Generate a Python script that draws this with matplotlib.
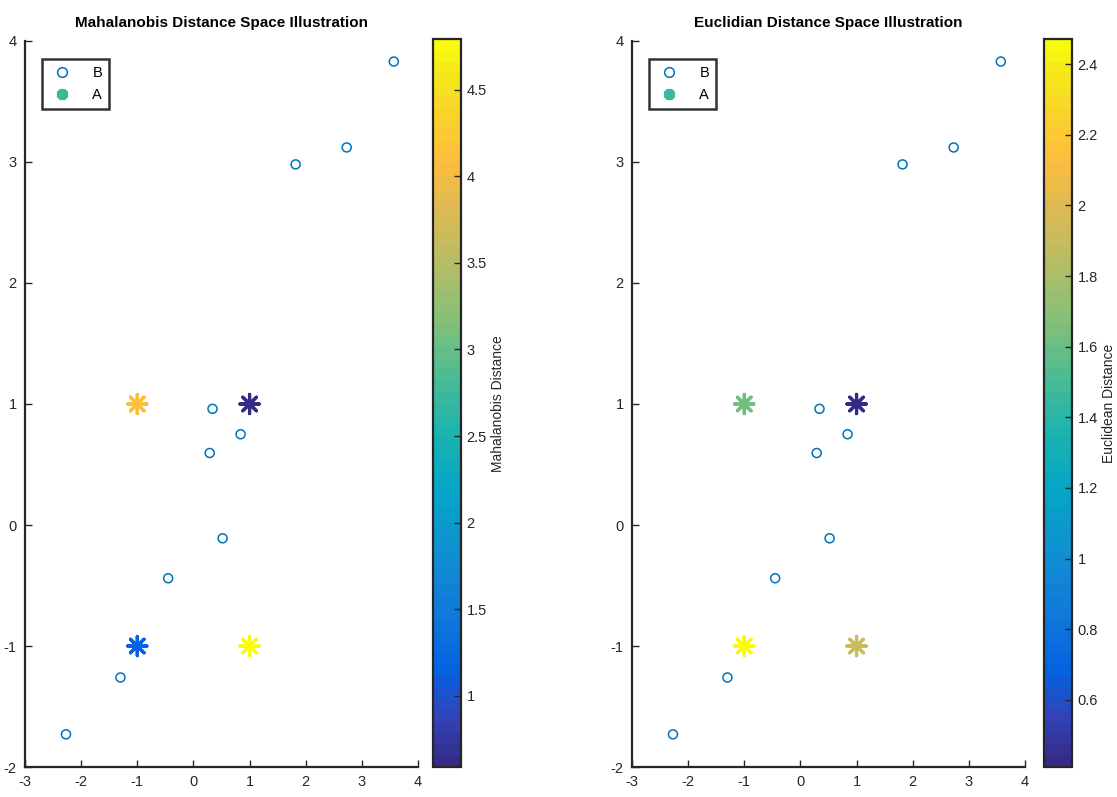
import numpy as np
import matplotlib
matplotlib.use('Agg')
import matplotlib.pyplot as plt
from matplotlib.colors import LinearSegmentedColormap
from matplotlib.lines import Line2D
from matplotlib.ticker import FuncFormatter

plt.rcParams['font.family'] = ['Liberation Sans Narrow', 'Liberation Sans', 'DejaVu Sans']
plt.rcParams['axes.unicode_minus'] = False

# data
b_x = [3.57, 2.73, 1.82, 0.34, 0.84, 0.29, 0.52, -0.45, -1.30, -2.27]
b_y = [3.83, 3.12, 2.98, 0.96, 0.75, 0.595, -0.11, -0.44, -1.26, -1.73]
a_x = [-1, 1, -1, 1]
a_y = [1, 1, -1, -1]
mahal_dist = [4.12, 0.59, 1.12, 4.79]
eucl_dist = [1.62, 0.41, 2.47, 1.91]

panels = [
    ('Mahalanobis Distance Space Illustration', 'Mahalanobis Distance', mahal_dist,
     np.arange(1, 4.6, 0.5)),
    ('Euclidian Distance Space Illustration', 'Euclidean Distance', eucl_dist,
     np.arange(0.6, 2.41, 0.2)),
]

# parula-like colormap, 64 steps (anchor index out of 63, rgb)
parula_pts = [
    (0, (0.2081, 0.1663, 0.5292)), (4, (0.1959, 0.2645, 0.7279)), (8, (0.0117, 0.3875, 0.8820)),
    (13, (0.0629, 0.4737, 0.8554)), (18, (0.0641, 0.5570, 0.8240)), (24, (0.0228, 0.6535, 0.7768)),
    (29, (0.1133, 0.7015, 0.6859)), (34, (0.3022, 0.7376, 0.5712)), (39, (0.5300, 0.7491, 0.4661)),
    (44, (0.7184, 0.7411, 0.3905)), (49, (0.8824, 0.7274, 0.3217)), (53, (0.9938, 0.7455, 0.2403)),
    (57, (0.9789, 0.8271, 0.1633)), (61, (0.9598, 0.9218, 0.0948)), (63, (0.9763, 0.9831, 0.0538)),
]
parula = LinearSegmentedColormap.from_list('parula', [(i / 63, c) for i, c in parula_pts], N=64)

ink = '#262626'
circ_col = (0.0, 0.447, 0.741)

fig = plt.figure(figsize=(11.17, 7.97), dpi=100)
ax_pos = [(0.0224, 0.0376, 0.3518, 0.911), (0.5658, 0.0376, 0.3518, 0.911)]
cb_pos = [(0.3876, 0.0376, 0.0251, 0.913), (0.9346, 0.0376, 0.0251, 0.913)]

for (title, cblabel, dist, cticks), apos, cpos in zip(panels, ax_pos, cb_pos):
    ax = fig.add_axes(apos)
    ax.scatter(b_x, b_y, s=42, facecolors='none', edgecolors=circ_col, linewidths=1.1, zorder=3)
    sc = ax.scatter(a_x, a_y, c=dist, cmap=parula, vmin=min(dist), vmax=max(dist),
                    marker=(8, 2, 0), s=190, linewidths=2.3, zorder=3)
    ax.set_xlim(-3, 4)
    ax.set_ylim(-2, 4)
    ax.set_xticks(range(-3, 5))
    ax.set_yticks(range(-2, 5))
    for side in ['top', 'right']:
        ax.spines[side].set_visible(False)
    for side in ['left', 'bottom']:
        ax.spines[side].set_linewidth(1.6)
        ax.spines[side].set_color(ink)
    ax.tick_params(direction='in', length=5, width=1, colors=ink, labelsize=10.5, pad=6)
    ax.set_title(title, fontsize=11, fontweight='bold', color='black', pad=10)

    handles = [
        Line2D([], [], marker='o', linestyle='none', markerfacecolor='none',
               markeredgecolor=circ_col, markersize=7, markeredgewidth=1.1),
        Line2D([], [], marker=(8, 2, 0), linestyle='none', color=parula(0.5),
               markersize=8, markeredgewidth=3),
    ]
    leg = ax.legend(handles, ['B', 'A'], loc='upper left', bbox_to_anchor=(0.025, 0.985),
                    fontsize=10.5, frameon=True, fancybox=False, markerfirst=True,
                    handlelength=1.8, handletextpad=1.2, borderpad=0.45, labelspacing=0.6)
    leg.get_frame().set_edgecolor('black')
    leg.get_frame().set_linewidth(1.8)

    cax = fig.add_axes(cpos)
    cb = fig.colorbar(sc, cax=cax, ticks=cticks, format=FuncFormatter(lambda v, p: '%g' % round(v, 2)))
    cb.outline.set_linewidth(1.6)
    cb.outline.set_edgecolor(ink)
    cax.tick_params(direction='in', length=5, width=1, colors=ink, labelsize=10.5, pad=4)
    cb.set_label(cblabel, fontsize=10, color=ink, labelpad=3)

fig.savefig('out.png', dpi=100)
